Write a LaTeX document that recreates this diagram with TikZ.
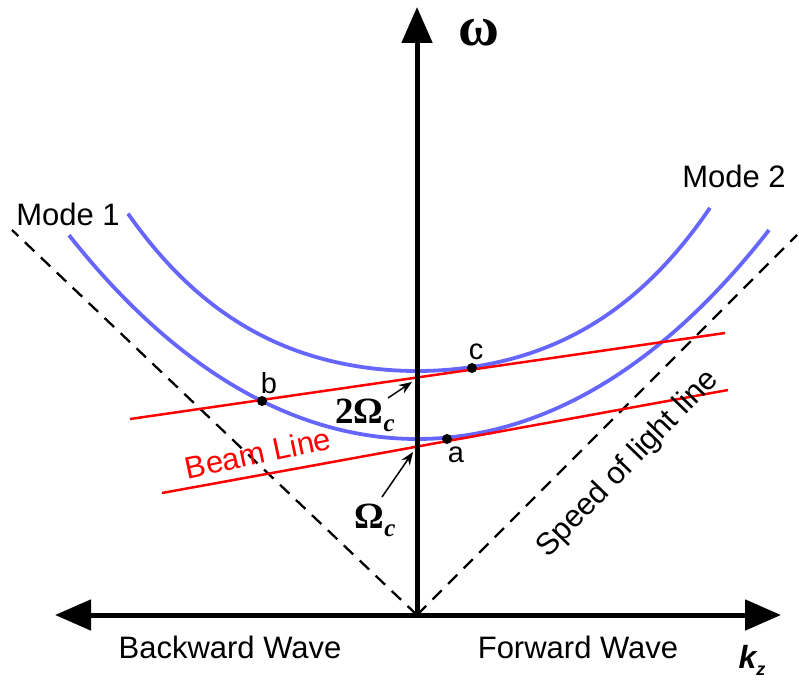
\documentclass[tikz,border=0pt]{standalone}
\usepackage{fontspec}
\setmainfont{Liberation Sans}
\newfontfamily\serifB{Liberation Serif}
\usetikzlibrary{arrows.meta}
\definecolor{modeblue}{RGB}{102,102,255}
\tikzset{
  axisline/.style={line width=5pt, {Triangle[length=36pt,width=30pt]}-{Triangle[length=36pt,width=30pt]}},
  axisup/.style={line width=5pt, -{Triangle[length=36pt,width=30pt]}},
  lightline/.style={line width=2.3pt, dash pattern=on 13pt off 9pt},
  modecurve/.style={modeblue, line width=3.8pt},
  beamline/.style={red, line width=2.5pt},
  dotnode/.style={circle, fill=black, inner sep=0pt, minimum size=10pt},
  lbl/.style={font=\fontsize{31}{36}\selectfont, inner sep=0pt},
  ptlbl/.style={font=\fontsize{29}{34}\selectfont, inner sep=0pt},
  ptr/.style={line width=1.5pt, -{Stealth[length=13pt,width=10pt]}},
  omg/.style={font=\serifB\bfseries\fontsize{37}{40}\selectfont, inner sep=0pt}
}
\begin{document}
\begin{tikzpicture}[x=1pt,y=-1pt]
\useasboundingbox (0,0) rectangle (799,679);
% coordinates
\coordinate (O) at (417,615);
\coordinate (Ytop) at (417,7);
\coordinate (Xleft) at (55,615);
\coordinate (Xright) at (781,615);
\coordinate (Lend) at (12,230);
\coordinate (Rend) at (797,235);
\coordinate (B1s) at (130,419);
\coordinate (B1e) at (725,333);
\coordinate (B2s) at (162,493);
\coordinate (B2e) at (728,390);
% light lines
\draw[lightline] (O) -- (Lend);
\draw[lightline] (O) -- (Rend);
% mode curves
\draw[modecurve] plot[domain=-3.48:3.52, samples=120] ({417+100*\x}, {439 - 15.5*\x*\x - 0.11*\x*\x*\x*\x});
\draw[modecurve] plot[domain=-2.89:2.93, samples=120] ({417+100*\x}, {371 - 13*\x*\x - 0.7*\x*\x*\x*\x});
% beam lines
\draw[beamline] (B1s) -- (B1e);
\draw[beamline] (B2s) -- (B2e);
% axes
\draw[axisup] (O) -- (Ytop);
\draw[axisline] (Xleft) -- (Xright);
% dots
\node[dotnode] (a) at (447,439) {};
\node[dotnode] (b) at (262,401) {};
\node[dotnode] (c) at (472,368) {};
\node[ptlbl] (alab) at (456,455) {a};
\node[ptlbl] (blab) at (269,383) {b};
\node[ptlbl] (clab) at (476,352) {c};
% labels
\node[lbl] (m1) at (68,214) {Mode 1};
\node[lbl] (m2) at (734,176) {Mode 2};
\node[lbl] (bw) at (230,647) {Backward Wave};
\node[lbl] (fw) at (578,647) {Forward Wave};
\node[lbl, red, rotate=12] (beam) at (258,453) {Beam Line};
\node[lbl, rotate=46] (sol) at (628,464) {Speed of light line};
\node[inner sep=0pt, font=\bfseries\itshape\fontsize{32}{36}\selectfont] (kz) at (752,660) {k\raisebox{-7pt}{\fontsize{18}{20}\selectfont z}};
\node[omg, font=\serifB\bfseries\fontsize{56}{60}\selectfont] (w) at (479,33) {ω};
\node[omg] (two) at (365,415) {2Ω\raisebox{-8pt}{\itshape\fontsize{25}{28}\selectfont c}};
\node[omg] (one) at (375,520) {Ω\raisebox{-8pt}{\itshape\fontsize{25}{28}\selectfont c}};
% pointers
\coordinate (p2s) at (388,398);
\coordinate (p2e) at (412,382);
\coordinate (p1s) at (382,497);
\coordinate (p1e) at (413,452);
\draw[ptr] (p2s) -- (p2e);
\draw[ptr] (p1s) -- (p1e);
\end{tikzpicture}
\end{document}
